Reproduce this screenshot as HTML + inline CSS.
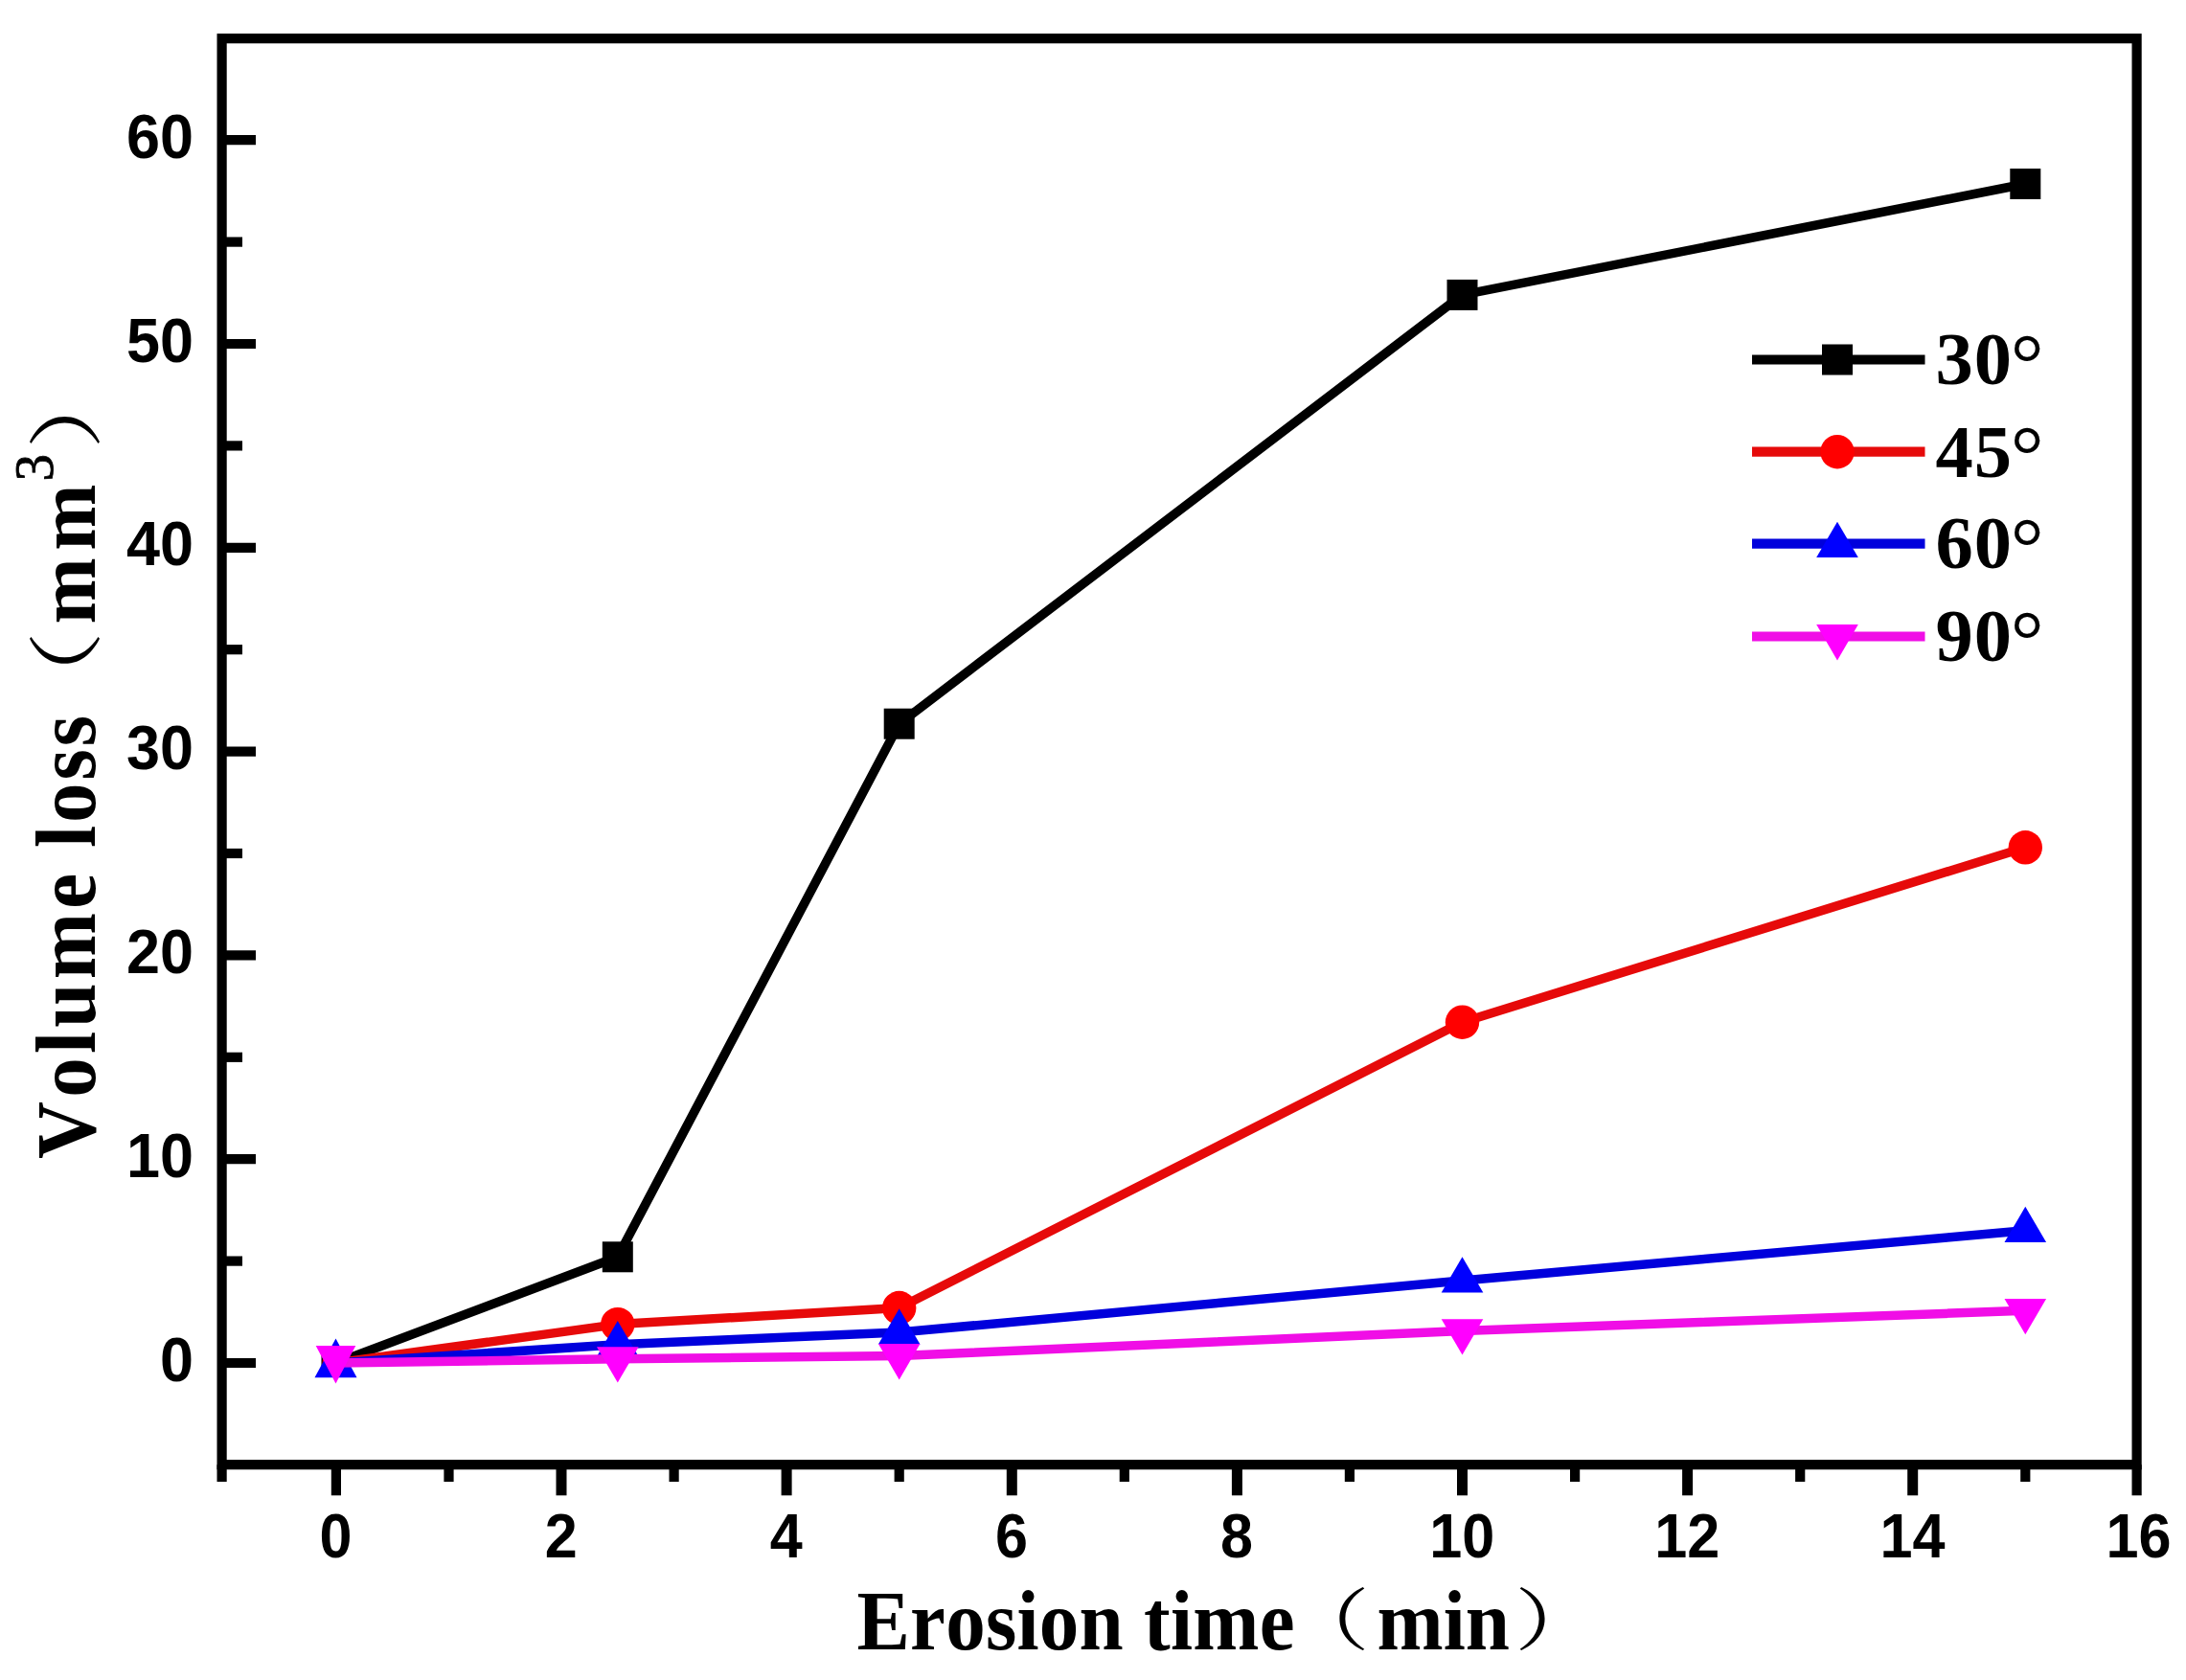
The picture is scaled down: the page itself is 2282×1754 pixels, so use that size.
<!DOCTYPE html>
<html lang="en"><head><meta charset="utf-8"><title>Volume loss vs erosion time</title>
<style>html,body{margin:0;padding:0;background:#fff}body{width:2282px;height:1754px;overflow:hidden}svg{display:block}.tk{font-family:"Liberation Sans",sans-serif;font-weight:bold;font-size:65.5px;fill:#000}.ax{font-family:"Liberation Serif","Noto Serif CJK SC",serif;font-weight:bold;font-size:83px;fill:#000;font-kerning:none}.cj{font-family:"Noto Serif CJK SC","Noto Sans CJK SC",serif;font-weight:normal;font-size:83px;fill:#000}.lg{font-family:"Liberation Serif",serif;font-weight:bold;font-size:78.5px;letter-spacing:1px;fill:#000}.dg{font-family:"Liberation Serif",serif;font-weight:normal;font-size:86px;fill:#000;stroke:#000;stroke-width:0.2px}</style></head><body>
<svg width="2282" height="1754" viewBox="0 0 2282 1754" style="filter:blur(0.6px)" role="img" aria-label="Line chart: Volume loss (mm3) versus Erosion time (min) for impact angles 30, 45, 60 and 90 degrees">
<rect x="0" y="0" width="2282" height="1754" fill="#fff"/>
<g stroke="#000" stroke-width="10.2" fill="none" stroke-linecap="butt">
<rect x="231.6" y="40.2" width="1999.0" height="1489.0"/>
<line x1="231.6" y1="1423.0" x2="267.0" y2="1423.0"/>
<line x1="231.6" y1="1210.2" x2="267.0" y2="1210.2"/>
<line x1="231.6" y1="997.4" x2="267.0" y2="997.4"/>
<line x1="231.6" y1="784.6" x2="267.0" y2="784.6"/>
<line x1="231.6" y1="571.8" x2="267.0" y2="571.8"/>
<line x1="231.6" y1="359.0" x2="267.0" y2="359.0"/>
<line x1="231.6" y1="146.2" x2="267.0" y2="146.2"/>
<line x1="231.6" y1="1316.6" x2="253.0" y2="1316.6"/>
<line x1="231.6" y1="1103.8" x2="253.0" y2="1103.8"/>
<line x1="231.6" y1="891.0" x2="253.0" y2="891.0"/>
<line x1="231.6" y1="678.2" x2="253.0" y2="678.2"/>
<line x1="231.6" y1="465.4" x2="253.0" y2="465.4"/>
<line x1="231.6" y1="252.6" x2="253.0" y2="252.6"/>
<line x1="350.9" y1="1529.2" x2="350.9" y2="1561.3" stroke-width="10.2"/>
<line x1="586.0" y1="1529.2" x2="586.0" y2="1561.3" stroke-width="11.0"/>
<line x1="821.1" y1="1529.2" x2="821.1" y2="1561.3" stroke-width="11.0"/>
<line x1="1056.3" y1="1529.2" x2="1056.3" y2="1561.3" stroke-width="11.0"/>
<line x1="1291.4" y1="1529.2" x2="1291.4" y2="1561.3" stroke-width="11.0"/>
<line x1="1526.5" y1="1529.2" x2="1526.5" y2="1561.3" stroke-width="11.0"/>
<line x1="1761.6" y1="1529.2" x2="1761.6" y2="1561.3" stroke-width="11.0"/>
<line x1="1996.7" y1="1529.2" x2="1996.7" y2="1561.3" stroke-width="11.0"/>
<line x1="2230.6" y1="1529.2" x2="2230.6" y2="1561.3" stroke-width="10.2"/>
<line x1="231.6" y1="1529.2" x2="231.6" y2="1547.0"/>
<line x1="468.5" y1="1529.2" x2="468.5" y2="1547.0"/>
<line x1="703.6" y1="1529.2" x2="703.6" y2="1547.0"/>
<line x1="938.7" y1="1529.2" x2="938.7" y2="1547.0"/>
<line x1="1173.8" y1="1529.2" x2="1173.8" y2="1547.0"/>
<line x1="1408.9" y1="1529.2" x2="1408.9" y2="1547.0"/>
<line x1="1644.1" y1="1529.2" x2="1644.1" y2="1547.0"/>
<line x1="1879.2" y1="1529.2" x2="1879.2" y2="1547.0"/>
<line x1="2114.3" y1="1529.2" x2="2114.3" y2="1547.0"/>
</g>
<g class="tk" text-anchor="end">
<text x="202" y="1441.5" textLength="35" lengthAdjust="spacingAndGlyphs">0</text>
<text x="202" y="1228.7" textLength="70" lengthAdjust="spacingAndGlyphs">10</text>
<text x="202" y="1015.9" textLength="70" lengthAdjust="spacingAndGlyphs">20</text>
<text x="202" y="803.1" textLength="70" lengthAdjust="spacingAndGlyphs">30</text>
<text x="202" y="590.3" textLength="70" lengthAdjust="spacingAndGlyphs">40</text>
<text x="202" y="377.5" textLength="70" lengthAdjust="spacingAndGlyphs">50</text>
<text x="202" y="164.7" textLength="70" lengthAdjust="spacingAndGlyphs">60</text>
</g>
<g class="tk" text-anchor="middle">
<text x="350.6" y="1625.6" textLength="34" lengthAdjust="spacingAndGlyphs">0</text>
<text x="585.7" y="1625.6" textLength="34" lengthAdjust="spacingAndGlyphs">2</text>
<text x="820.8" y="1625.6" textLength="34" lengthAdjust="spacingAndGlyphs">4</text>
<text x="1056.0" y="1625.6" textLength="34" lengthAdjust="spacingAndGlyphs">6</text>
<text x="1291.1" y="1625.6" textLength="34" lengthAdjust="spacingAndGlyphs">8</text>
<text x="1526.2" y="1625.6" textLength="68" lengthAdjust="spacingAndGlyphs">10</text>
<text x="1761.3" y="1625.6" textLength="68" lengthAdjust="spacingAndGlyphs">12</text>
<text x="1996.4" y="1625.6" textLength="68" lengthAdjust="spacingAndGlyphs">14</text>
<text x="2232.4" y="1625.6" textLength="68" lengthAdjust="spacingAndGlyphs">16</text>
</g>
<polyline points="350.9,1423.0 644.8,1312.3 938.7,755.7 1526.5,307.9 2114.3,192.0" fill="none" stroke="#000000" stroke-width="9.5" stroke-linejoin="round"/>
<rect x="335.5" y="1408" width="30" height="30" fill="#000000"/>
<rect x="628.8" y="1296.3" width="32" height="32" fill="#000000"/>
<rect x="922.7" y="739.7" width="32" height="32" fill="#000000"/>
<rect x="1510.5" y="291.9" width="32" height="32" fill="#000000"/>
<rect x="2098.3" y="176.0" width="32" height="32" fill="#000000"/>
<polyline points="350.9,1423.0 644.8,1382.6 938.7,1365.5 1526.5,1067.2 2114.3,884.8" fill="none" stroke="#e60a0a" stroke-width="9.5" stroke-linejoin="round"/>
<circle cx="350.5" cy="1423" r="14" fill="#ff0000"/>
<circle cx="644.8" cy="1382.6" r="17.7" fill="#ff0000"/>
<circle cx="938.7" cy="1365.5" r="17.7" fill="#ff0000"/>
<circle cx="1526.5" cy="1067.2" r="17.7" fill="#ff0000"/>
<circle cx="2114.3" cy="884.8" r="17.7" fill="#ff0000"/>
<polyline points="350.9,1423.0 644.8,1403.8 938.7,1391.1 1526.5,1337.0 2114.3,1284.7" fill="none" stroke="#0000dc" stroke-width="9.5" stroke-linejoin="round"/>
<polygon points="350.5,1397.5 328.5,1438.2 372.5,1438.2" fill="#0000ff"/>
<polygon points="644.8,1379.0 623.0,1416.3 666.6,1416.3" fill="#0000ff"/>
<polygon points="938.7,1366.2 916.9,1403.5 960.5,1403.5" fill="#0000ff"/>
<polygon points="1526.5,1312.2 1504.7,1349.5 1548.3,1349.5" fill="#0000ff"/>
<polygon points="2114.3,1259.8 2092.5,1297.1 2136.1,1297.1" fill="#0000ff"/>
<polyline points="350.9,1423.0 644.8,1418.7 938.7,1415.6 1526.5,1389.6 2114.3,1368.3" fill="none" stroke="#f00ee6" stroke-width="9.5" stroke-linejoin="round"/>
<polygon points="350.5,1444.6 329.7,1405 371.3,1405" fill="#ff00ff"/>
<polygon points="644.8,1443.6 623.0,1406.3 666.6,1406.3" fill="#ff00ff"/>
<polygon points="938.7,1440.4 916.9,1403.1 960.5,1403.1" fill="#ff00ff"/>
<polygon points="1526.5,1414.5 1504.7,1377.2 1548.3,1377.2" fill="#ff00ff"/>
<polygon points="2114.3,1393.2 2092.5,1355.9 2136.1,1355.9" fill="#ff00ff"/>
<line x1="1829" y1="375.5" x2="2009.5" y2="375.5" stroke="#000000" stroke-width="10.2"/>
<rect x="1902.0" y="359.5" width="32" height="32" fill="#000000"/>
<text class="lg" x="2020.5" y="401.3">30</text>
<text class="dg" x="2099" y="407.8">°</text>
<line x1="1829" y1="471.7" x2="2009.5" y2="471.7" stroke="#e60a0a" stroke-width="10.2"/>
<circle cx="1918.0" cy="471.7" r="17.7" fill="#ff0000"/>
<text class="lg" x="2020.5" y="497.5">45</text>
<text class="dg" x="2099" y="504.0">°</text>
<line x1="1829" y1="567.6" x2="2009.5" y2="567.6" stroke="#0000dc" stroke-width="10.2"/>
<polygon points="1918.0,544.7 1896.2,582.0 1939.8,582.0" fill="#0000ff"/>
<text class="lg" x="2020.5" y="593.4">60</text>
<text class="dg" x="2099" y="599.9">°</text>
<line x1="1829" y1="664.5" x2="2009.5" y2="664.5" stroke="#f00ee6" stroke-width="10.2"/>
<polygon points="1918.0,689.4 1896.2,652.1 1939.8,652.1" fill="#ff00ff"/>
<text class="lg" x="2020.5" y="690.3">90</text>
<text class="dg" x="2099" y="696.8">°</text>
<text class="ax" transform="translate(894.5,1721.6) scale(1,1.06)" textLength="457" lengthAdjust="spacing">Erosion time</text>
<text class="cj" transform="translate(1339.4,1716.9) scale(1.09,0.85)">（</text>
<text class="ax" transform="translate(1437.5,1721.6) scale(1,1.06)">min</text>
<text class="cj" transform="translate(1580.9,1716.9) scale(1.09,0.85)">）</text>
<g transform="translate(99.2,0) rotate(-90)">
<text class="ax" transform="translate(-1210,0) scale(1,1.065)" textLength="298" lengthAdjust="spacing">Volume</text>
<text class="ax" transform="translate(-885,0) scale(1,1.065)" textLength="138" lengthAdjust="spacing">loss</text>
<text class="cj" transform="translate(-756,-2.7) scale(1.17,0.94)">（</text>
<text class="ax" transform="translate(-651.5,0) scale(1,1.04)" textLength="146" lengthAdjust="spacing">mm</text>
<text class="ax" x="-502.5" y="-44.2" style="font-size:57px;font-weight:normal;stroke:#000;stroke-width:0.8px">3</text>
<text class="cj" transform="translate(-469,-2.7) scale(1.17,0.94)">）</text>
</g>
</svg></body></html>
